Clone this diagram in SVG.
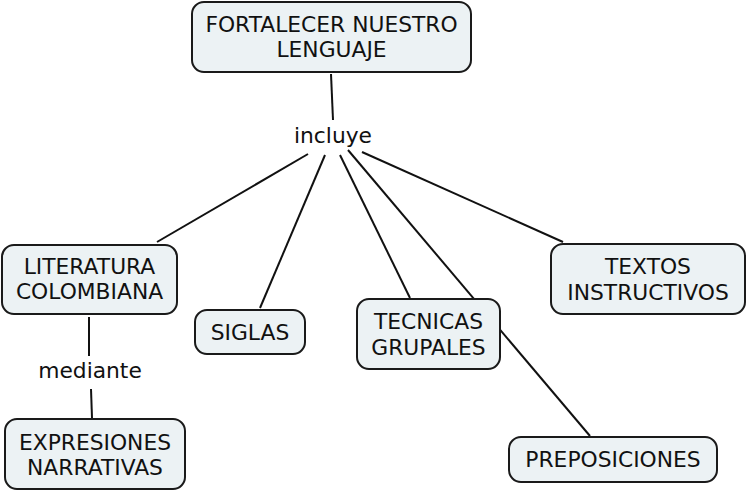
<svg xmlns="http://www.w3.org/2000/svg" width="750" height="494" viewBox="0 0 750 494">
<style>
.n{fill:#ecf2f4;stroke:#1a1a1a;stroke-width:2}
.t{font-family:"DejaVu Sans",Verdana,sans-serif;font-size:21.8px;fill:#111;text-anchor:middle}
.c{stroke:#111;stroke-width:2;fill:none}
</style>
<rect width="750" height="494" fill="#fff"/>
<g id="connectors">
<line class="c" x1="331" y1="74" x2="333" y2="120"/>
<line class="c" x1="308" y1="154" x2="157" y2="242"/>
<line class="c" x1="325" y1="155" x2="260" y2="308"/>
<line class="c" x1="340" y1="155" x2="410" y2="298"/>
<line class="c" x1="348" y1="150" x2="590" y2="436"/>
<line class="c" x1="362" y1="152" x2="563" y2="242"/>
<line class="c" x1="89" y1="317" x2="89" y2="356"/>
<line class="c" x1="91" y1="389" x2="92" y2="418"/>
</g>
<g id="n-top"><rect class="n" x="192" y="2" width="279" height="70" rx="12"/><text class="t" x="331.5" y="32">FORTALECER NUESTRO</text><text class="t" x="331.5" y="57">LENGUAJE</text></g>
<g id="l-incluye"><text class="t" x="333" y="143">incluye</text></g>
<g id="n-lit"><rect class="n" x="2" y="245" width="175" height="69" rx="12"/><text class="t" x="89.5" y="274">LITERATURA</text><text class="t" x="89.5" y="299">COLOMBIANA</text></g>
<g id="l-mediante"><text class="t" x="90" y="378">mediante</text></g>
<g id="n-exp"><rect class="n" x="5" y="419" width="180" height="70" rx="12"/><text class="t" x="95" y="450">EXPRESIONES</text><text class="t" x="95" y="475">NARRATIVAS</text></g>
<g id="n-siglas"><rect class="n" x="195" y="310" width="110" height="44" rx="12"/><text class="t" x="250" y="340">SIGLAS</text></g>
<g id="n-tec"><rect class="n" x="357" y="299" width="143" height="70" rx="12"/><text class="t" x="428.5" y="329">TECNICAS</text><text class="t" x="428.5" y="355">GRUPALES</text></g>
<g id="n-textos"><rect class="n" x="551" y="244" width="194" height="70" rx="12"/><text class="t" x="648" y="274">TEXTOS</text><text class="t" x="648" y="300">INSTRUCTIVOS</text></g>
<g id="n-prep"><rect class="n" x="509" y="437" width="208" height="45" rx="12"/><text class="t" x="613" y="467">PREPOSICIONES</text></g>
</svg>
